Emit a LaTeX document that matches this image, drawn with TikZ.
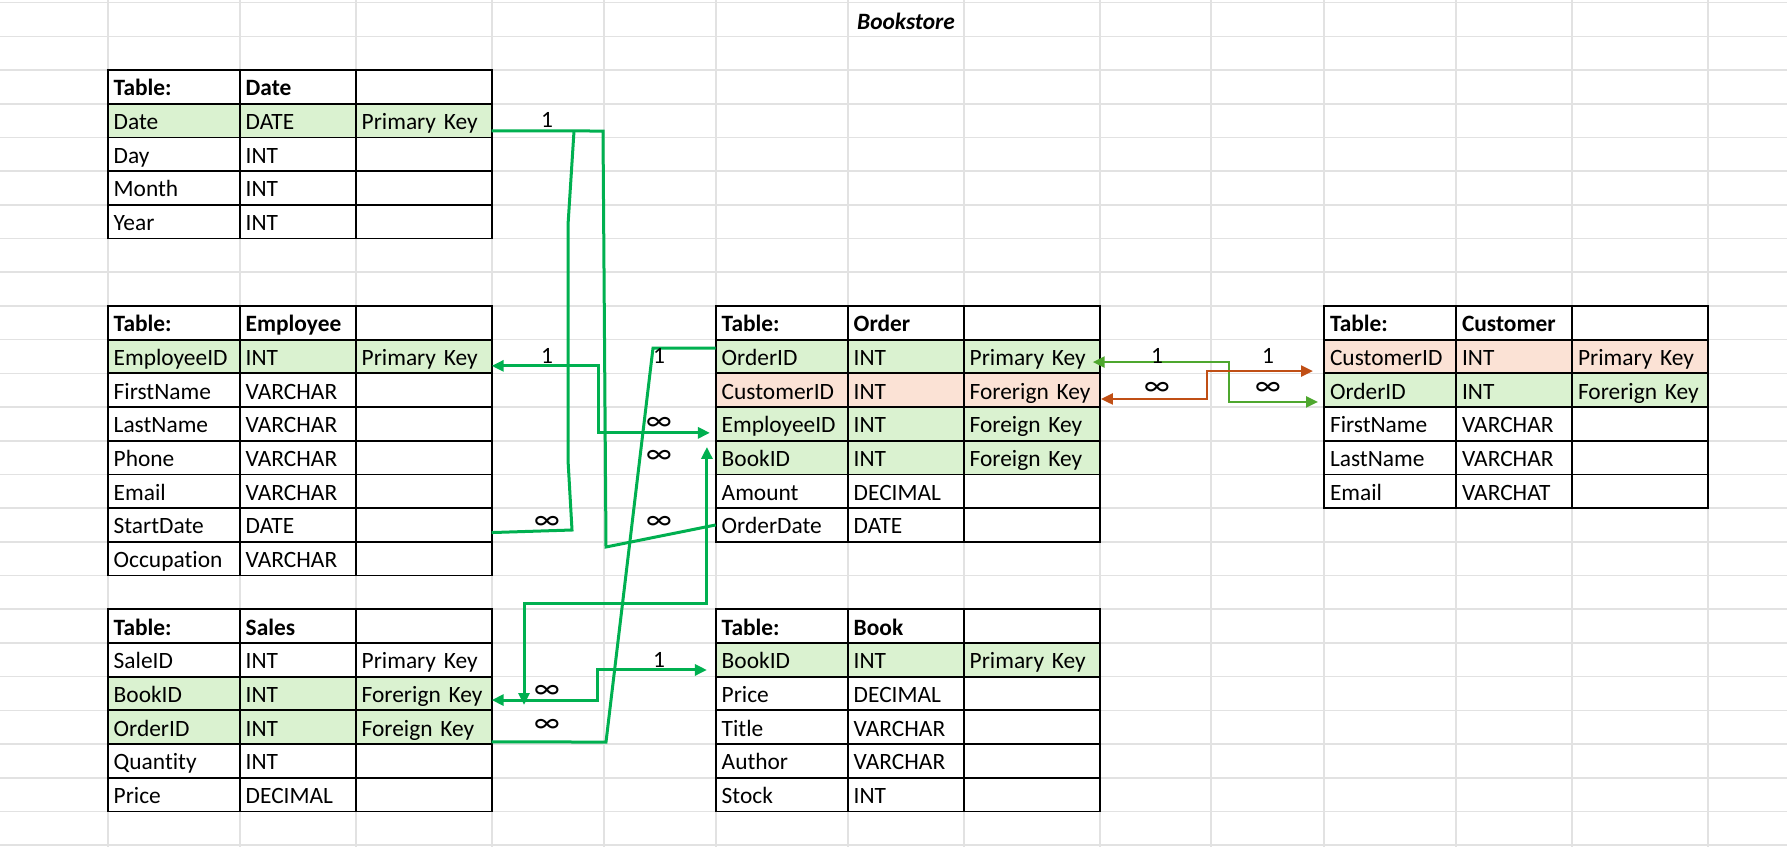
\documentclass[tikz,border=0pt]{standalone}
\usepackage{fontspec}
\setmainfont{Carlito}[Ligatures=NoCommon]
\usetikzlibrary{arrows.meta}

\definecolor{gridgray}{RGB}{226,226,226}
\definecolor{pkgreen}{RGB}{218,242,208}
\definecolor{fksalmon}{RGB}{251,226,213}
\definecolor{linkgreen}{RGB}{0,176,80}
\definecolor{custgreen}{RGB}{78,167,46}
\definecolor{custorange}{RGB}{192,79,21}

\tikzset{
  gridline/.style={draw=gridgray, line width=0.8pt},
  cell/.style={draw=black, line width=0.9pt, anchor=north west, outer sep=0pt,
    inner xsep=3pt, inner ysep=1pt, minimum height=16.85pt,
    text height=10pt, text depth=1pt, align=left},
  cola/.style={cell, text width=60pt},
  colb/.style={cell, text width=52pt},
  colc/.style={cell, text width=62pt},
  link/.style={draw=linkgreen, line width=1.5pt},
  custlink/.style={draw=custgreen, line width=1.2pt},
  ordlink/.style={draw=custorange, line width=1.2pt},
  bothtips/.style={{Triangle[length=6pt,width=5.5pt]}-{Triangle[length=6pt,width=5.5pt]}},
  card/.style={inner sep=0pt},
  manycard/.style={card, font=\fontsize{15}{15}\selectfont},
}

% one table: name, left x, top y, rows
\newcommand{\dbtable}[4]{%
  \foreach \fa/\fb/\fc/\fcol [count=\ri from 0] in {#4} {
    \node[cola, fill=\fcol] (#1-\ri-1) at (#2, {#3+\ri*33.7}) {\fa};
    \node[colb, fill=\fcol] (#1-\ri-2) at ({#2+132}, {#3+\ri*33.7}) {\fb};
    \node[colc, fill=\fcol] (#1-\ri-3) at ({#2+248}, {#3+\ri*33.7}) {\fc};
  }%
}

\begin{document}
\begin{tikzpicture}[x=0.5pt, y=-0.5pt, font=\fontsize{11.7}{13}\selectfont]
  \useasboundingbox (0,0) rectangle (1787,847);

  % sheet grid
  \foreach \gx in {107.7,239.7,355.7,491.7,604,715.7,847.7,963.7,1099.7,1211,1324,1456,1572,1708}
    \draw[gridline] (\gx,0) -- (\gx,847);
  \foreach \gk in {0,...,25}
    \draw[gridline] (0,{2.6+\gk*33.7}) -- (1787,{2.6+\gk*33.7});

  \node[anchor=base, font=\fontsize{11.7}{13}\selectfont\bfseries\itshape] (title) at (906,29) {Bookstore};

  % tables
  \dbtable{date}{107.7}{70}{\textbf{Table:}/\textbf{Date}//white,
    Date/DATE/Primary Key/pkgreen, Day/INT//white, Month/INT//white, Year/INT//white}
  \dbtable{emp}{107.7}{305.9}{\textbf{Table:}/\textbf{Employee}//white,
    EmployeeID/INT/Primary Key/pkgreen, FirstName/VARCHAR//white, LastName/VARCHAR//white,
    Phone/VARCHAR//white, Email/VARCHAR//white, StartDate/DATE//white, Occupation/VARCHAR//white}
  \dbtable{sales}{107.7}{609.2}{\textbf{Table:}/\textbf{Sales}//white,
    SaleID/INT/Primary Key/white, BookID/INT/Forerign Key/pkgreen, OrderID/INT/Foreign Key/pkgreen,
    Quantity/INT//white, Price/DECIMAL//white}
  \dbtable{order}{715.7}{305.9}{\textbf{Table:}/\textbf{Order}//white,
    OrderID/INT/Primary Key/pkgreen, CustomerID/INT/Forerign Key/fksalmon,
    EmployeeID/INT/Foreign Key/pkgreen, BookID/INT/Foreign Key/pkgreen,
    Amount/DECIMAL//white, OrderDate/DATE//white}
  \dbtable{book}{715.7}{609.2}{\textbf{Table:}/\textbf{Book}//white,
    BookID/INT/Primary Key/pkgreen, Price/DECIMAL//white, Title/VARCHAR//white,
    Author/VARCHAR//white, Stock/INT//white}
  \dbtable{cust}{1324}{305.9}{\textbf{Table:}/\textbf{Customer}//white,
    CustomerID/INT/Primary Key/fksalmon, OrderID/INT/Forerign Key/pkgreen,
    FirstName/VARCHAR//white, LastName/VARCHAR//white, Email/VARCHAT//white}

  % relations
  \draw[link] ([yshift=-5.2pt]date-1-3.east) -- (603,131) -- (606,547) -- (order-6-1.west);
  \coordinate (fork) at (574,131);
  \draw[link] (fork) -- (568,225) -- (568,460) -- (572,530) -- ([yshift=-3.8pt]emp-6-3.east);
  \draw[link, bothtips] ([yshift=-4.7pt]emp-1-3.east) -| (598,400)
    |- ([xshift=-2.9pt,yshift=-4.5pt]order-3-1.west);
  \draw[link] ([yshift=4.2pt]order-1-1.west) -- (653,348) -- (606,742) -- ([yshift=-7.4pt]sales-3-3.east);
  \draw[link, bothtips] ([yshift=-3.3pt]sales-2-3.east) -| (597,685)
    |- ([xshift=-4.4pt,yshift=-5.1pt]book-1-1.west);
  \coordinate (bk-top) at ([xshift=-4.4pt,yshift=5.3pt]order-4-1.west);
  \coordinate (bk-low) at (524,705);
  \draw[link, bothtips] (bk-low) -- (524,603) -| (bk-top);

  \draw[custlink, bothtips] ([xshift=-3.5pt,yshift=-2.8pt]order-1-3.east) -| (1229,380)
    |- ([xshift=-3pt,yshift=-5.9pt]cust-2-1.west);
  \draw[ordlink, bothtips] ([xshift=0.6pt,yshift=-4.4pt]order-2-3.east) -| (1207,385)
    |- ([xshift=-5.5pt,yshift=-7.3pt]cust-1-1.west);

  % cardinalities
  \foreach \lx/\ly [count=\li] in {547/120, 547/356, 659/356, 659/660, 1157/356, 1268/356}
    \node[card] (one-\li) at (\lx,\ly) {1};
  \foreach \lx/\ly [count=\li] in {659/424, 659/457, 659/523, 547/523, 547/692, 547/726, 1157/389, 1268/389}
    \node[manycard] (many-\li) at (\lx,\ly) {∞};
\end{tikzpicture}
\end{document}
